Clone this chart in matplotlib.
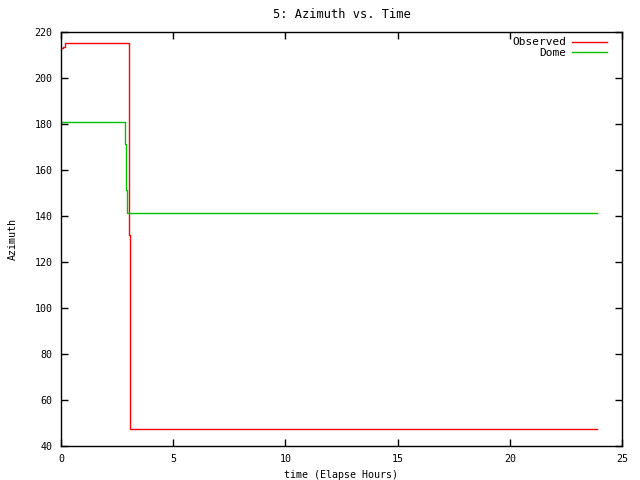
import matplotlib
matplotlib.use("Agg")
import matplotlib.pyplot as plt

# Observed azimuth (step curve)
obs_t = [0.0, 0.10, 0.19, 3.04, 3.07, 23.9]
obs_az = [213.0, 213.6, 215.1, 131.7, 47.4, 47.4]

# Dome azimuth (step curve)
dome_t = [0.0, 2.87, 2.91, 2.95, 23.9]
dome_az = [180.7, 171.2, 151.2, 141.2, 141.2]

plt.rcParams["font.family"] = "DejaVu Sans Mono"
plt.rcParams["font.size"] = 7.2

fig = plt.figure(figsize=(6.4, 4.8), dpi=100)
ax = fig.add_axes([61 / 640, 1 - 446 / 480, (622 - 61) / 640, (446 - 32) / 480])

ax.plot(obs_t, obs_az, drawstyle="steps-post", color="#ff0000", lw=1, label="Observed")
ax.plot(dome_t, dome_az, drawstyle="steps-post", color="#00c000", lw=1, label="Dome")

ax.set_xlim(0, 25)
ax.set_ylim(40, 220)
ax.set_xticks(range(0, 26, 5))
ax.set_yticks(range(40, 221, 20))
ax.tick_params(direction="in", top=True, right=True, length=5, width=1, pad=6)
for s in ax.spines.values():
    s.set_linewidth(1)

ax.set_title("5: Azimuth vs. Time", pad=10)
ax.set_xlabel("time (Elapse Hours)", labelpad=4)
ax.set_ylabel("Azimuth", labelpad=12)

ax.legend(loc="upper right", bbox_to_anchor=(0.985, 1.003), frameon=False,
          markerfirst=False, handlelength=3.1, fontsize=8,
          borderaxespad=0.2, labelspacing=0.05, handletextpad=0.55)

fig.savefig("out.png", dpi=100)
